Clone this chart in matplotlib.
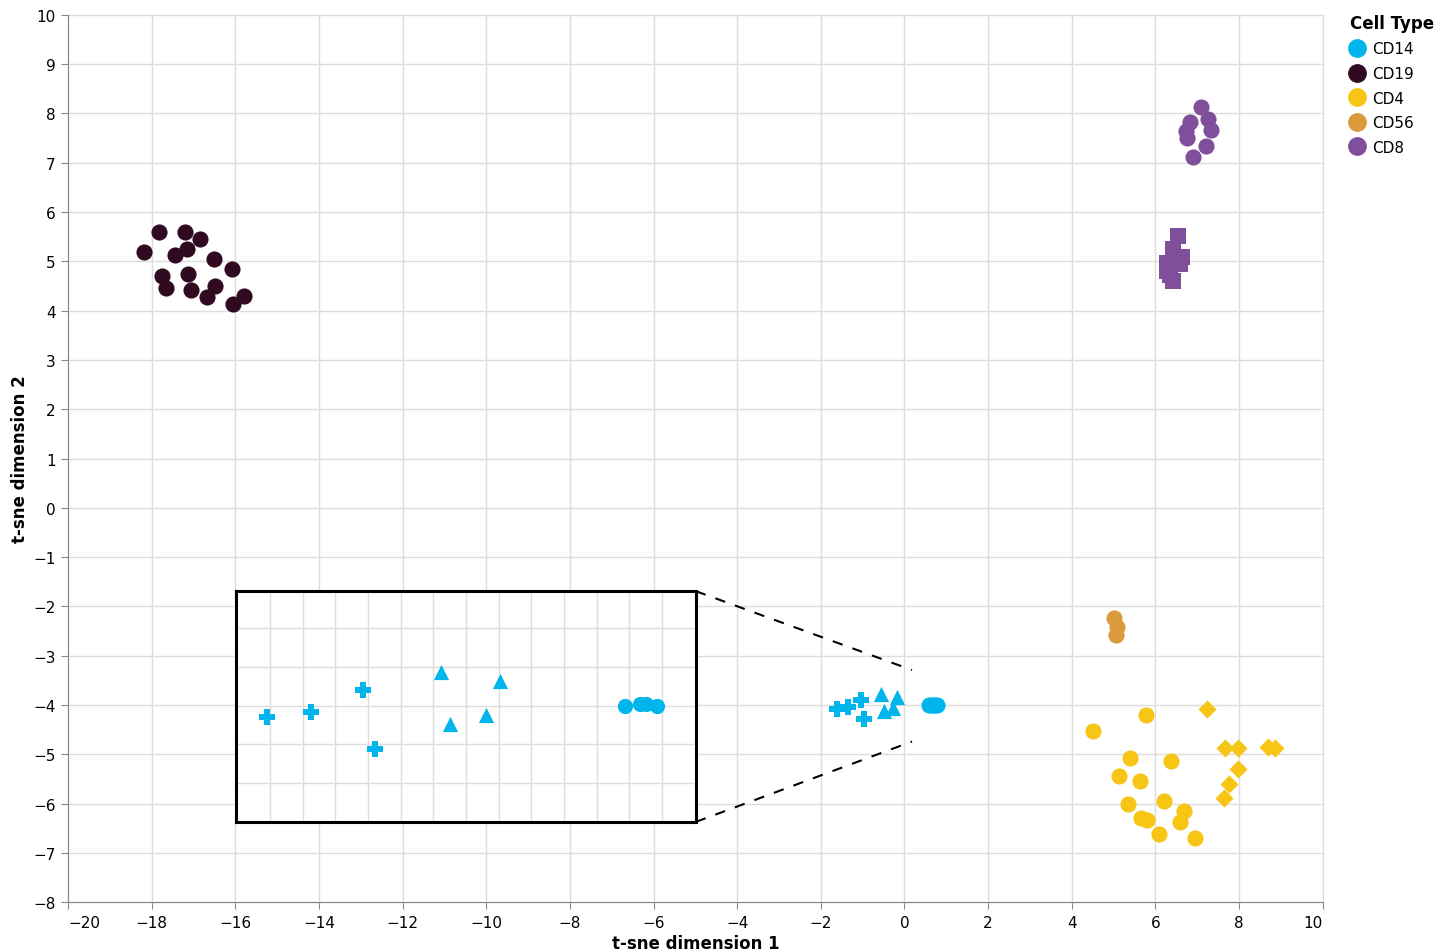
import matplotlib
matplotlib.use("Agg")
from matplotlib import pyplot as plt
from matplotlib.lines import Line2D
from matplotlib.path import Path
import numpy as np

# cell type colours
cell_types = ["CD14", "CD19", "CD4", "CD56", "CD8"]
colors = {"CD14": "#00b5eb", "CD19": "#2f0a20", "CD4": "#f6c516",
          "CD56": "#db9b3d", "CD8": "#7f4f9b"}

# CD14 (three shapes)
cd14_cross_x = [-1.62, -1.35, -1.03, -0.96]
cd14_cross_y = [-4.07, -4.04, -3.90, -4.28]
cd14_tri_x = [-0.55, -0.19, -0.50, -0.28]
cd14_tri_y = [-3.78, -3.84, -4.12, -4.06]
cd14_circ_x = [0.575, 0.664, 0.700, 0.771]
cd14_circ_y = [-4.00, -3.99, -3.99, -4.00]

# CD19
cd19_x = [-18.18, -17.82, -17.21, -16.85, -17.44, -17.15, -16.51, -16.07,
          -17.75, -17.13, -17.65, -17.05, -16.49, -16.67, -16.05, -15.79]
cd19_y = [5.19, 5.59, 5.59, 5.45, 5.12, 5.24, 5.05, 4.84,
          4.70, 4.74, 4.45, 4.42, 4.49, 4.28, 4.14, 4.30]

# CD4 (circles + diamonds)
cd4_circ_x = [5.77, 4.50, 5.40, 6.38, 5.12, 5.62, 5.34, 6.20, 5.65, 5.80,
              6.68, 6.58, 6.08, 6.95]
cd4_circ_y = [-4.20, -4.53, -5.07, -5.14, -5.44, -5.55, -6.01, -5.95, -6.30,
              -6.34, -6.15, -6.37, -6.62, -6.69]
cd4_diam_x = [7.24, 7.66, 7.97, 8.69, 8.85, 7.97, 7.76, 7.64]
cd4_diam_y = [-4.09, -4.87, -4.87, -4.85, -4.88, -5.30, -5.61, -5.89]

# CD56
cd56_x = [5.01, 5.09, 5.06]
cd56_y = [-2.23, -2.41, -2.58]

# CD8 (circles + squares)
cd8_circ_x = [7.08, 7.25, 7.32, 6.82, 6.72, 6.75, 7.20, 6.89]
cd8_circ_y = [8.13, 7.89, 7.67, 7.82, 7.65, 7.50, 7.33, 7.12]
cd8_sq_x = [6.53, 6.41, 6.63, 6.27, 6.58, 6.27, 6.41, 6.34]
cd8_sq_y = [5.52, 5.24, 5.09, 4.97, 4.95, 4.81, 4.59, 4.73]

grid_c = "#dddddd"
axis_c = "#888888"

# chunky plus marker (vega-like cross)
w = 0.22
cross = Path([(-w, 0.5), (w, 0.5), (w, w), (0.5, w), (0.5, -w), (w, -w), (w, -0.5),
              (-w, -0.5), (-w, -w), (-0.5, -w), (-0.5, w), (-w, w), (-w, 0.5)])

fig = plt.figure(figsize=(14.54, 9.53), dpi=100)
ax = fig.add_axes([68 / 1454, 1 - 903.3 / 953, (1322.7 - 68) / 1454, (903.3 - 15.7) / 953])

ax.set_xlim(-20, 10)
ax.set_ylim(-8, 10)
ax.set_xticks(np.arange(-20, 11, 2))
ax.set_yticks(np.arange(-8, 11, 1))
ax.grid(True, color=grid_c, linewidth=1)
ax.set_axisbelow(True)
for s in ["top", "right"]:
    ax.spines[s].set_visible(False)
for s in ["left", "bottom"]:
    ax.spines[s].set_color(axis_c)
ax.tick_params(colors=axis_c, labelcolor="black", length=5, labelsize=11, pad=4)
for gl in ax.get_xgridlines() + ax.get_ygridlines():
    gl.set_clip_on(False)

xl = ax.get_xticklabels()
xl[0].set_ha("left")
xl[-1].set_ha("right")

ax.set_xlabel("t-sne dimension 1", fontsize=12, fontweight="bold", labelpad=3)
ax.set_ylabel("t-sne dimension 2", fontsize=12, fontweight="bold", labelpad=3)

s_circ = 135


def draw_points(a, sc):
    a.scatter(cd14_cross_x, cd14_cross_y, marker=cross, s=125, color=colors["CD14"], lw=0)
    a.scatter(cd14_tri_x, cd14_tri_y, marker="^", s=120, color=colors["CD14"], lw=0)
    a.scatter(cd14_circ_x, cd14_circ_y, marker="o", s=sc, color=colors["CD14"], lw=0)


ax.scatter(cd19_x, cd19_y, marker="o", s=s_circ, color=colors["CD19"], lw=0)
ax.scatter(cd4_circ_x, cd4_circ_y, marker="o", s=s_circ, color=colors["CD4"], lw=0)
ax.scatter(cd4_diam_x, cd4_diam_y, marker="D", s=85, color=colors["CD4"], lw=0)
ax.scatter(cd56_x, cd56_y, marker="o", s=s_circ, color=colors["CD56"], lw=0)
ax.scatter(cd8_circ_x, cd8_circ_y, marker="o", s=s_circ, color=colors["CD8"], lw=0)
ax.scatter(cd8_sq_x, cd8_sq_y, marker="s", s=120, color=colors["CD8"], lw=0)
draw_points(ax, s_circ)

# zoom inset
ins = ax.inset_axes([-15.99, -6.37, 11.01, 4.68], transform=ax.transData)
ins.set_xlim(-1.81, 1.01)
ins.set_ylim(-4.75, -3.26)
ins.set_xticks(np.arange(-1.6, 0.81, 0.2))
ins.set_yticks([-4.5, -4.25, -4.0, -3.75, -3.5])
ins.grid(True, color=grid_c, linewidth=1)
ins.set_axisbelow(True)
ins.tick_params(length=0, labelbottom=False, labelleft=False)
for s in ins.spines.values():
    s.set_color("black")
    s.set_linewidth(2.2)
draw_points(ins, 120)

# dashed connectors
ax.plot([-4.99, 0.18], [-1.69, -3.29], ls=(0, (5, 5)), color="black", lw=1.5)
ax.plot([-4.99, 0.18], [-6.37, -4.74], ls=(0, (5, 5)), color="black", lw=1.5)

handles = [Line2D([], [], ls="", marker="o", markersize=12.5, color=colors[c]) for c in cell_types]
fig.legend(handles, cell_types, title="Cell Type", loc="upper left",
           bbox_to_anchor=(1339 / 1454, 1 - 4 / 953), frameon=False,
           fontsize=11, title_fontproperties={"weight": "bold", "size": 12},
           alignment="left", handlelength=1.0, handletextpad=0.5,
           labelspacing=0.63, borderpad=0.2)

fig.savefig("out.png", dpi=100)
